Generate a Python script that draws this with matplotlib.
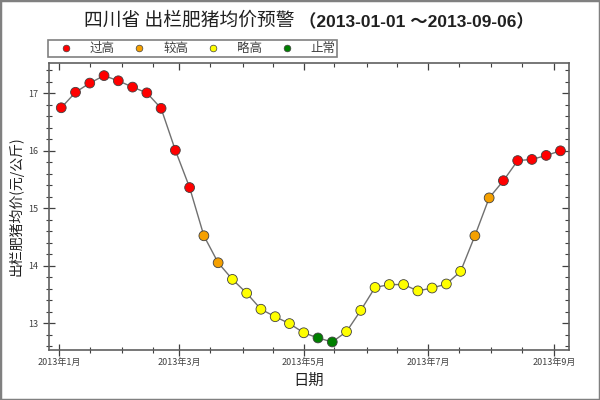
import matplotlib
matplotlib.use("Agg")
import matplotlib.pyplot as plt
import matplotlib.dates as mdates
import matplotlib.ticker as mticker
from matplotlib.lines import Line2D
from matplotlib.patches import Rectangle
import pandas as pd

plt.rcParams["font.family"] = ["Noto Sans CJK SC", "DejaVu Sans"]

# weekly prices, Sichuan fattening pigs
dates = pd.date_range("2013-01-02", periods=36, freq="7D")
prices = [16.75, 17.02, 17.18, 17.31, 17.22, 17.11, 17.01, 16.74, 16.01, 15.36,
          14.52, 14.05, 13.76, 13.52, 13.24, 13.11, 12.99, 12.83, 12.74, 12.67,
          12.85, 13.22, 13.62, 13.67, 13.67, 13.56, 13.61, 13.68, 13.90, 14.52,
          15.18, 15.48, 15.83, 15.85, 15.92, 16.00]
levels = [0, 0, 0, 0, 0, 0, 0, 0, 0, 0,
          1, 1, 2, 2, 2, 2, 2, 2, 3, 3,
          2, 2, 2, 2, 2, 2, 2, 2, 2, 1,
          1, 0, 0, 0, 0, 0]
level_names = ["过高", "较高", "略高", "止常"]
level_colors = ["#ff0000", "#f5a000", "#ffff00", "#008000"]

fig = plt.figure(figsize=(6, 4), dpi=100)
ax = fig.add_axes([0.0817, 0.125, 0.866, 0.7175])

ax.plot(dates, prices, color="#707070", lw=1, zorder=2)
ax.scatter(dates, prices, c=[level_colors[l] for l in levels], s=50,
           edgecolors="#404040", linewidths=0.6, zorder=3)

ax.set_xlim(pd.Timestamp("2012-12-27"), pd.Timestamp("2013-09-08"))
ax.set_ylim(12.53, 17.53)

ax.xaxis.set_major_locator(mdates.MonthLocator(bymonth=[1, 3, 5, 7, 9]))
ax.xaxis.set_minor_locator(mdates.DayLocator(bymonthday=[1, 16]))
ax.xaxis.set_major_formatter(mticker.FuncFormatter(
    lambda v, p: f"{mdates.num2date(v).year}年{mdates.num2date(v).month}月"))
ax.yaxis.set_major_locator(mticker.MultipleLocator(1))
ax.yaxis.set_minor_locator(mticker.MultipleLocator(0.2))

for s in ax.spines.values():
    s.set_color("#606060")
    s.set_linewidth(1.2)

ax.tick_params(which="both", direction="inout", colors="#404040", labelsize=6.5,
               labelcolor="#404040")
ax.tick_params(which="major", length=9, width=0.9)
ax.tick_params(which="minor", length=5, width=0.8)
ax.tick_params(axis="x", pad=1)

# mirrored ticks on top / right, pointing inward
top = ax.secondary_xaxis("top")
top.xaxis.set_major_locator(ax.xaxis.get_major_locator())
top.xaxis.set_minor_locator(ax.xaxis.get_minor_locator())
top.tick_params(which="both", direction="in", labeltop=False, colors="#404040")
top.tick_params(which="major", length=5, width=0.9)
top.tick_params(which="minor", length=3, width=0.8)
right = ax.secondary_yaxis("right")
right.yaxis.set_major_locator(mticker.MultipleLocator(1))
right.yaxis.set_minor_locator(mticker.MultipleLocator(0.2))
right.tick_params(which="both", direction="in", labelright=False, colors="#404040")
right.tick_params(which="major", length=5, width=0.9)
right.tick_params(which="minor", length=3, width=0.8)
for sec in (top, right):
    for s in sec.spines.values():
        s.set_visible(False)

ax.set_xlabel("日期", fontsize=11, color="#202020", labelpad=4)
ax.set_ylabel("出栏肥猪均价(元/公斤)", fontsize=10, color="#202020", labelpad=3)

t1 = fig.text(0.14, 0.95, "四川省 出栏肥猪均价预警 ", fontsize=13.5,
              color="#202020", ha="left", va="center")
ax.annotate("（2013-01-01 ～2013-09-06）", xy=(1, 0), xycoords=t1,
            va="bottom", ha="left", fontsize=12.5, fontweight="bold",
            color="#202020", family=["Liberation Sans", "Noto Sans CJK SC"])

handles = [Line2D([], [], ls="none", marker="o", markersize=4.8,
                  markerfacecolor=c, markeredgecolor="#404040", markeredgewidth=0.5)
           for c in level_colors]
leg = fig.legend(handles, level_names, ncol=4, loc="upper left",
                 bbox_to_anchor=(0.08, 0.9), fontsize=9, frameon=True,
                 fancybox=False, handlelength=2.5, handletextpad=0.65,
                 columnspacing=0.75, borderpad=0.15, borderaxespad=0)
leg.get_frame().set_edgecolor("#606060")
leg.get_frame().set_linewidth(1.2)
for t in leg.get_texts():
    t.set_color("#404040")

fig.patches.append(Rectangle((0, 0), 1, 1, transform=fig.transFigure, fill=False,
                             edgecolor="#808080", lw=2.5))

fig.savefig("out.png", dpi=100)
